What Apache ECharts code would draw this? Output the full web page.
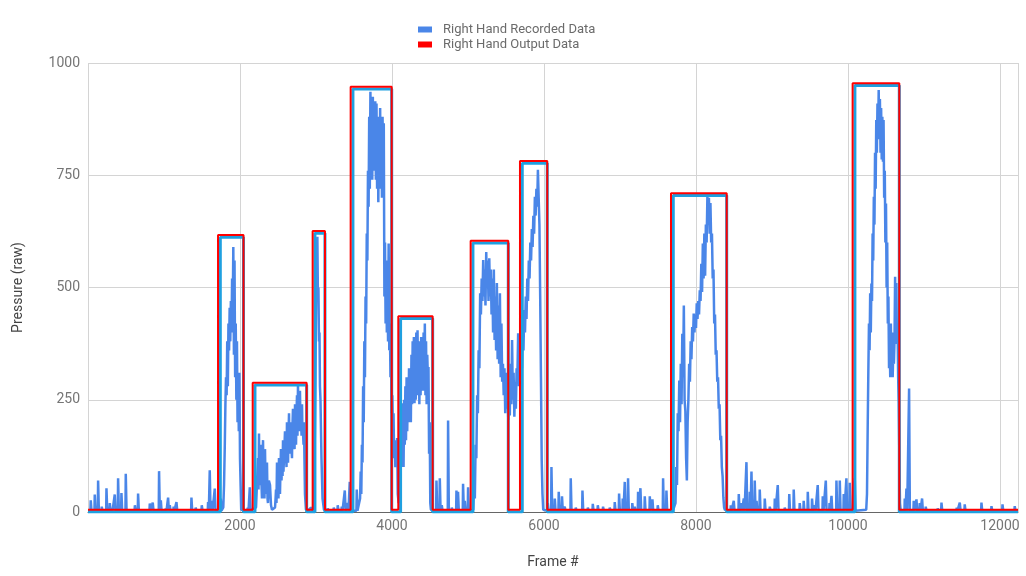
<!DOCTYPE html>
<html>
<head>
<meta charset="utf-8">
<script src="https://cdn.jsdelivr.net/npm/echarts@6/dist/echarts.min.js"></script>
<style>
  html, body { margin: 0; padding: 0; background: #fff; }
  #chart { width: 1026px; height: 576px; }
</style>
</head>
<body>
<div id="chart"></div>
<script>
// recorded pressure.
// idle stretches: short spikes as [frame, raw]; presses: [frame, raw] traces
const idleStart = [
  [39, 26], [92, 39], [136, 70], [184, 12], [246, 53], [290, 20], [316, 8], [355, 39],
  [399, 75], [443, 42], [500, 85], [566, 6], [620, 15], [662, 41], [816, 19], [855, 21],
  [938, 91], [961, 26], [1026, 8], [1057, 32], [1079, 15], [1130, 12], [1167, 22], [1364, 32],
  [1420, 10], [1500, 15], [1583, 22], [1605, 93], [1632, 25], [1671, 52], [1750, 30]
];
const press1 = [
  [1780, 10], [1790, 60], [1800, 150], [1808, 240], [1816, 300], [1824, 260], [1832, 380],
  [1840, 280], [1848, 420], [1856, 360], [1864, 455], [1872, 380], [1880, 470], [1888, 400],
  [1896, 520], [1904, 440], [1912, 590], [1920, 350], [1928, 560], [1936, 300], [1944, 420],
  [1952, 250], [1960, 380], [1968, 200], [1976, 310], [1984, 180], [1992, 310], [2000, 120],
  [2008, 60], [2016, 5], [2066, 3]
];
const idleGap1 = [[2105, 10], [2132, 55]];
const press2 = [
  [2211, 10], [2237, 120], [2244, 50], [2250, 175], [2256, 70], [2263, 60], [2270, 130],
  [2276, 150], [2283, 60], [2289, 30], [2296, 120], [2303, 160], [2310, 50], [2316, 90],
  [2322, 30], [2329, 140], [2336, 60], [2342, 40], [2348, 100], [2355, 110], [2362, 30],
  [2368, 20], [2380, 70], [2395, 60], [2408, 15], [2421, 5], [2461, 10], [2468, 30], [2474, 50],
  [2480, 20], [2487, 110], [2494, 40], [2500, 70], [2506, 30], [2513, 120], [2520, 60],
  [2526, 40], [2532, 90], [2539, 140], [2546, 70], [2553, 100], [2560, 80], [2566, 160],
  [2572, 90], [2579, 90], [2586, 150], [2592, 180], [2598, 110], [2605, 130], [2612, 100],
  [2618, 200], [2625, 120], [2632, 110], [2638, 170], [2645, 220], [2652, 130], [2658, 160],
  [2664, 130], [2671, 200], [2678, 140], [2684, 120], [2690, 190], [2697, 230], [2704, 150],
  [2711, 170], [2718, 140], [2724, 240], [2730, 160], [2737, 150], [2744, 220], [2750, 260],
  [2756, 170], [2763, 282], [2770, 200], [2776, 180], [2782, 240], [2789, 270], [2796, 190],
  [2803, 210], [2810, 170], [2816, 240], [2822, 170], [2829, 180], [2836, 150], [2842, 200],
  [2848, 120], [2855, 40], [2868, 5], [2895, 3], [2934, 10], [2961, 3]
];
const press3 = [
  [2974, 10], [2993, 300], [3005, 560], [3018, 613], [3025, 480], [3032, 500], [3039, 380],
  [3046, 400], [3052, 280], [3059, 250], [3066, 180], [3072, 120], [3086, 30], [3105, 5]
];
const idleGap3 = [
  [3158, 8], [3237, 10], [3289, 15], [3342, 12], [3382, 48], [3421, 20], [3447, 67], [3539, 50]
];
const press4 = [
  [3580, 30], [3588, 90], [3596, 40], [3604, 150], [3612, 110], [3620, 280], [3628, 200],
  [3636, 380], [3644, 300], [3652, 480], [3660, 420], [3668, 620], [3676, 560], [3684, 760],
  [3692, 680], [3700, 880], [3708, 720], [3716, 936], [3724, 760], [3732, 900], [3740, 740],
  [3748, 925], [3756, 780], [3764, 900], [3772, 760], [3780, 915], [3788, 740], [3796, 910],
  [3804, 720], [3812, 880], [3820, 690], [3828, 870], [3836, 740], [3844, 900], [3852, 720],
  [3860, 860], [3868, 700], [3876, 880], [3884, 720], [3892, 866], [3900, 480], [3908, 600],
  [3916, 420], [3924, 560], [3932, 400], [3940, 540], [3948, 380], [3956, 598], [3964, 360],
  [3972, 420], [3980, 300], [3988, 340], [3996, 220], [4004, 260], [4012, 180], [4020, 220],
  [4028, 120], [4036, 160], [4044, 100], [4052, 150], [4060, 110], [4068, 165], [4076, 40]
];
const press5 = [
  [4088, 20], [4096, 120], [4104, 60], [4112, 200], [4120, 100], [4128, 242], [4136, 110],
  [4144, 220], [4152, 100], [4160, 250], [4168, 150], [4176, 280], [4184, 160], [4192, 300],
  [4200, 180], [4208, 260], [4216, 200], [4224, 320], [4232, 220], [4240, 316], [4248, 200],
  [4256, 350], [4264, 240], [4272, 380], [4280, 260], [4288, 390], [4296, 242], [4304, 360],
  [4312, 250], [4320, 400], [4328, 280], [4336, 405], [4344, 260], [4352, 380], [4360, 240],
  [4368, 360], [4376, 260], [4384, 390], [4392, 300], [4400, 360], [4408, 270], [4416, 400],
  [4424, 290], [4432, 420], [4440, 260], [4448, 380], [4456, 240], [4464, 350], [4472, 300],
  [4480, 323], [4488, 130], [4496, 200], [4504, 20], [4512, 5]
];
const idleGap5 = [
  [4539, 8], [4588, 70], [4632, 75], [4658, 15], [4741, 204], [4790, 10], [4851, 48],
  [4872, 45], [4938, 63], [4961, 25], [5004, 55]
];
const press6 = [
  [5070, 5], [5080, 60], [5090, 30], [5100, 150], [5110, 120], [5120, 260], [5130, 220],
  [5140, 360], [5150, 320], [5160, 487], [5170, 440], [5180, 520], [5190, 470], [5200, 561],
  [5210, 480], [5220, 540], [5230, 460], [5240, 579], [5250, 500], [5260, 560], [5270, 470],
  [5280, 565], [5290, 480], [5300, 540], [5310, 440], [5320, 520], [5330, 400], [5340, 540],
  [5350, 383], [5360, 480], [5370, 360], [5380, 510], [5390, 340], [5400, 460], [5410, 330],
  [5420, 487], [5430, 300], [5440, 420], [5450, 290], [5460, 330], [5470, 260], [5480, 320],
  [5490, 220], [5500, 310], [5510, 230], [5520, 290], [5530, 205], [5540, 260], [5550, 215],
  [5560, 330], [5570, 240], [5580, 383], [5590, 250], [5600, 310], [5610, 212], [5620, 290],
  [5630, 230], [5640, 320], [5650, 300], [5660, 398], [5670, 280], [5680, 360], [5690, 300],
  [5700, 390], [5710, 320], [5720, 420], [5730, 360], [5740, 450], [5750, 400], [5760, 480],
  [5770, 430], [5780, 520], [5790, 470], [5800, 560], [5810, 520], [5820, 600], [5830, 560],
  [5840, 630], [5850, 590], [5860, 660], [5870, 620], [5880, 702], [5890, 660], [5900, 720],
  [5910, 680], [5920, 762], [5930, 700], [5940, 640], [5950, 480], [5960, 300], [5970, 115],
  [5980, 40], [5990, 5]
];
const idleMid = [
  [6053, 20], [6101, 100], [6145, 30], [6197, 45], [6240, 35], [6276, 12], [6355, 75],
  [6421, 10], [6509, 48], [6580, 10], [6645, 18], [6711, 15], [6780, 12], [6868, 10],
  [6934, 22], [6991, 41], [7039, 30], [7066, 67], [7109, 75], [7165, 20], [7197, 12],
  [7241, 45], [7272, 53], [7329, 35], [7395, 35], [7430, 28], [7500, 15], [7570, 75], [7614, 48]
];
const press8 = [
  [7700, 5], [7710, 8], [7720, 5], [7730, 20], [7740, 100], [7750, 60], [7760, 220], [7770, 180],
  [7780, 293], [7790, 200], [7800, 330], [7810, 240], [7820, 397], [7830, 300], [7840, 460],
  [7850, 250], [7860, 225], [7870, 120], [7880, 70], [7890, 200], [7900, 250], [7910, 330],
  [7920, 290], [7930, 380], [7940, 340], [7950, 412], [7960, 380], [7970, 442], [7980, 400],
  [7990, 440], [8000, 410], [8010, 465], [8020, 430], [8030, 470], [8040, 440], [8050, 494],
  [8060, 470], [8070, 553], [8080, 490], [8090, 598], [8100, 520], [8110, 620], [8120, 526],
  [8130, 640], [8140, 600], [8150, 702], [8160, 640], [8170, 700], [8180, 620], [8190, 688],
  [8200, 600], [8210, 620], [8220, 520], [8230, 540], [8240, 420], [8250, 440], [8260, 350],
  [8270, 360], [8280, 290], [8290, 300], [8300, 230], [8310, 240], [8320, 160], [8330, 170],
  [8340, 100], [8350, 80], [8360, 33], [8370, 10], [8380, 5]
];
const idleLate = [
  [8461, 15], [8500, 25], [8566, 40], [8600, 20], [8632, 30], [8667, 111], [8711, 45],
  [8733, 90], [8776, 70], [8800, 25], [8842, 50], [8908, 30], [8974, 12], [9040, 30],
  [9079, 60], [9171, 10], [9230, 40], [9289, 50], [9368, 20], [9420, 25], [9474, 45],
  [9530, 30], [9566, 15], [9605, 60], [9671, 35], [9711, 70], [9760, 20], [9786, 36],
  [9851, 70], [9895, 70], [9947, 40], [9982, 75], [10026, 65], [10072, 70], [10092, 75]
];
const press9 = [
  [10240, 5], [10250, 40], [10260, 200], [10268, 316], [10276, 420], [10284, 360], [10292, 487],
  [10300, 400], [10308, 509], [10316, 470], [10324, 620], [10332, 560], [10340, 702],
  [10348, 640], [10356, 800], [10364, 720], [10372, 873], [10380, 800], [10388, 910],
  [10396, 830], [10404, 940], [10412, 830], [10420, 920], [10428, 800], [10436, 900],
  [10444, 785], [10452, 880], [10460, 780], [10468, 873], [10476, 700], [10484, 760],
  [10492, 600], [10500, 687], [10508, 500], [10516, 600], [10524, 420], [10532, 480],
  [10540, 320], [10548, 390], [10556, 300], [10564, 420], [10572, 330], [10580, 400],
  [10588, 300], [10596, 360], [10604, 330], [10612, 380], [10620, 524], [10628, 400],
  [10636, 510], [10644, 374], [10652, 420], [10660, 300], [10668, 242], [10676, 120],
  [10684, 20], [10694, 3]
];
const idleEnd = [
  [10750, 30], [10772, 52], [10807, 275], [10868, 25], [10904, 28], [10947, 20], [10978, 30],
  [11026, 12], [11184, 8], [11233, 21], [11434, 10], [11474, 21], [11539, 17], [11759, 21],
  [11891, 13], [12036, 17], [12197, 13]
];
const idleLevel = 3;

// output (detected presses): rectangles
const outStarts = [1711, 2167, 2956, 3456, 4083, 5035, 5684, 7671, 10061];
const outEnds = [2046, 2877, 3118, 3996, 4535, 5530, 6043, 8404, 10675];
const outTops = [617, 288, 626, 947, 436, 604, 782, 710, 955];
const outBase = 5;

// the second (cyan) trace that sits just inside the red one
const shadowStarts = [1741, 2197, 2986, 3486, 4113, 5065, 5714, 7701, 10091];
const shadowEnds = [2046, 2877, 3118, 3996, 4535, 5530, 6043, 8404, 10675];
const shadowTops = [612, 283, 621, 942, 431, 599, 777, 705, 950];
const shadowBase = 0;

const frameMax = 12237;
const yTicks = [0, 250, 500, 750, 1000];

// a spike is drawn as a thin flat-topped column on the idle level
function spikes(list) {
  const pts = [];
  list.forEach(([f, v]) => {
    pts.push([f - 7, idleLevel], [f - 3, v], [f + 3, v], [f + 7, idleLevel]);
  });
  return pts;
}

const recorded = [].concat(
  [[0, idleLevel]], spikes(idleStart), press1, spikes(idleGap1), press2, press3,
  spikes(idleGap3), press4, press5, spikes(idleGap5), press6, spikes(idleMid), press8,
  spikes(idleLate), press9, spikes(idleEnd), [[frameMax, idleLevel]]
);

function steps(starts, ends, tops, base) {
  const pts = [[0, base]];
  starts.forEach((s, i) => {
    pts.push([s, base], [s, tops[i]], [ends[i], tops[i]], [ends[i], base]);
  });
  pts.push([frameMax, base]);
  return pts;
}

const chart = echarts.init(document.getElementById('chart'));
const font = 'Roboto, "Noto Sans", sans-serif';
const plain = (v) => String(v);

chart.setOption({
  animation: false,
  backgroundColor: '#fff',
  textStyle: { fontFamily: font },
  legend: {
    orient: 'vertical',
    left: 413,
    top: 18,
    itemWidth: 14,
    itemHeight: 6,
    itemGap: 2,
    icon: 'rect',
    data: ['Right Hand Recorded Data', 'Right Hand Output Data'],
    textStyle: { fontSize: 13, color: '#6b6b6b', lineHeight: 13, padding: [0, 0, 0, 6] }
  },
  grid: { left: 88, right: 8, top: 63, bottom: 64 },
  xAxis: {
    type: 'value',
    min: 0,
    max: frameMax,
    interval: 2000,
    name: 'Frame #',
    nameLocation: 'middle',
    nameGap: 43,
    nameTextStyle: { fontSize: 14, color: '#444' },
    axisLine: { show: true, lineStyle: { color: '#666', width: 1 } },
    axisTick: { show: false },
    axisLabel: {
      fontSize: 14, color: '#757575', margin: 7,
      showMinLabel: false, showMaxLabel: false, formatter: plain
    },
    splitLine: { show: true, lineStyle: { color: '#d4d4d4', width: 1 } }
  },
  yAxis: {
    type: 'value',
    min: yTicks[0],
    max: yTicks[yTicks.length - 1],
    interval: 250,
    name: 'Pressure (raw)',
    nameLocation: 'middle',
    nameGap: 63,
    nameTextStyle: { fontSize: 14, color: '#444' },
    axisLine: { show: false },
    axisTick: { show: false },
    axisLabel: { fontSize: 14, color: '#757575', margin: 8, formatter: plain },
    splitLine: { show: true, lineStyle: { color: '#d4d4d4', width: 1 } }
  },
  series: [
    {
      name: 'Right Hand Recorded Data',
      type: 'line',
      data: recorded,
      showSymbol: false,
      color: '#4a86e8',
      lineStyle: { width: 2.5, color: '#4a86e8' },
      z: 2
    },
    {
      name: 'shadow',
      type: 'line',
      data: steps(shadowStarts, shadowEnds, shadowTops, shadowBase),
      showSymbol: false,
      color: '#1fa0e0',
      lineStyle: { width: 3, color: '#1fa0e0' },
      z: 3
    },
    {
      name: 'Right Hand Output Data',
      type: 'line',
      data: steps(outStarts, outEnds, outTops, outBase),
      showSymbol: false,
      color: '#ff0000',
      lineStyle: { width: 2, color: '#ff0000' },
      z: 4
    }
  ]
});
</script>
</body>
</html>
